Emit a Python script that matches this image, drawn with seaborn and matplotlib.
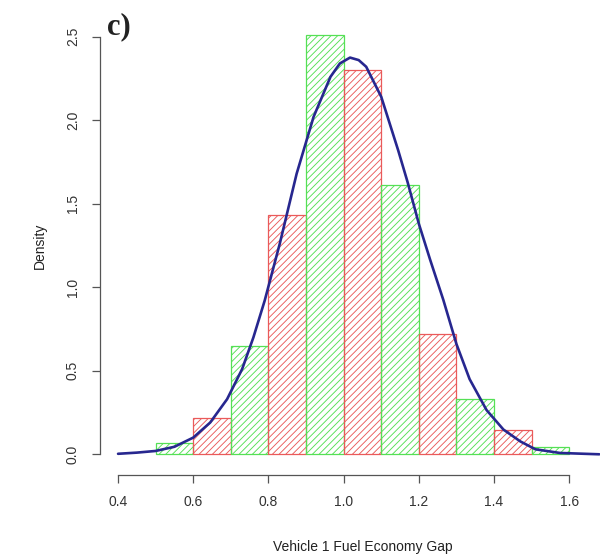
import matplotlib
matplotlib.use("Agg")
import matplotlib.pyplot as plt
import seaborn as sns

# ---- data ----
bin_edges = [0.5, 0.6, 0.7, 0.8, 0.9, 1.0, 1.1, 1.2, 1.3, 1.4, 1.5, 1.6]
bin_density = [0.07, 0.22, 0.65, 1.43, 2.51, 2.30, 1.615, 0.72, 0.33, 0.145, 0.044]
bar_colors = ["#55e055", "#ea5a5a", "#55e055", "#ea5a5a", "#55e055", "#ea5a5a",
              "#55e055", "#ea5a5a", "#55e055", "#ea5a5a", "#55e055"]

curve_x = [0.40, 0.45, 0.50, 0.55, 0.60, 0.645, 0.69, 0.73, 0.76, 0.79, 0.83, 0.875,
           0.92, 0.965, 0.99, 1.017, 1.04, 1.06, 1.10, 1.145, 1.17, 1.20, 1.23, 1.265,
           1.30, 1.335, 1.38, 1.425, 1.47, 1.51, 1.575, 1.68]
curve_y = [0.003, 0.01, 0.02, 0.045, 0.10, 0.19, 0.33, 0.51, 0.70, 0.92, 1.26, 1.68,
           2.02, 2.26, 2.34, 2.375, 2.36, 2.32, 2.14, 1.82, 1.63, 1.38, 1.165, 0.925,
           0.66, 0.45, 0.265, 0.148, 0.077, 0.03, 0.008, 0.0]

x_ticks = [0.4, 0.6, 0.8, 1.0, 1.2, 1.4, 1.6]
x_tick_labels = ["0.4", "0.6", "0.8", "1.0", "1.2", "1.4", "1.6"]
y_ticks = [0.0, 0.5, 1.0, 1.5, 2.0, 2.5]
y_tick_labels = ["0.0", "0.5", "1.0", "1.5", "2.0", "2.5"]

x_label = "Vehicle 1 Fuel Economy Gap"
y_label = "Density"
panel_label = "c)"

# ---- drawing ----
sns.set_theme(style="white")
plt.rcParams["font.family"] = ["Liberation Sans", "DejaVu Sans"]
plt.rcParams["hatch.linewidth"] = 0.65

fig = plt.figure(figsize=(6.0, 5.57), dpi=100)
ax = fig.add_axes([100 / 600, 1 - 471 / 557, 526 / 600, 451 / 557])

centers = [(a + b) / 2 for a, b in zip(bin_edges[:-1], bin_edges[1:])]
sns.histplot(x=centers, weights=bin_density, bins=bin_edges, stat="count", ax=ax)
for patch, col in zip(ax.patches, bar_colors):
    patch.set_facecolor("none")
    patch.set_edgecolor(col)
    patch.set_hatch("/////")
    patch.set_linewidth(0.9)
    patch.set_alpha(None)

sns.lineplot(x=curve_x, y=curve_y, color="#27278f", linewidth=1.9, ax=ax)

ax.set_xlim(0.352, 0.352 + 526 / 376)
ax.set_ylim(-0.1, 2.6)

for s in ["top", "right"]:
    ax.spines[s].set_visible(False)
for s in ["left", "bottom"]:
    ax.spines[s].set_color("#555555")
    ax.spines[s].set_linewidth(0.9)
ax.spines["left"].set_bounds(0, 2.5)
ax.spines["bottom"].set_bounds(0.4, 1.6)
ax.spines["bottom"].set_position(("outward", 3))

ax.set_xticks(x_ticks)
ax.set_xticklabels(x_tick_labels)
ax.set_yticks(y_ticks)
ax.set_yticklabels(y_tick_labels, rotation=90, va="center")
ax.tick_params(direction="out", length=5.5, width=0.9, color="#555555",
               labelsize=10, labelcolor="#333333", pad=9)
ax.tick_params(axis="both", which="both", bottom=True, left=True)

ax.set_xlabel(x_label, fontsize=10, color="#222222", labelpad=22)
ax.set_ylabel(y_label, fontsize=10, color="#222222", labelpad=14)

fig.text(107 / 600, 1 - 34 / 557, panel_label, fontsize=22, fontweight="bold",
         family=["Liberation Serif", "DejaVu Serif"], color="#222222",
         ha="left", va="baseline")

fig.savefig("out.png", dpi=100)
